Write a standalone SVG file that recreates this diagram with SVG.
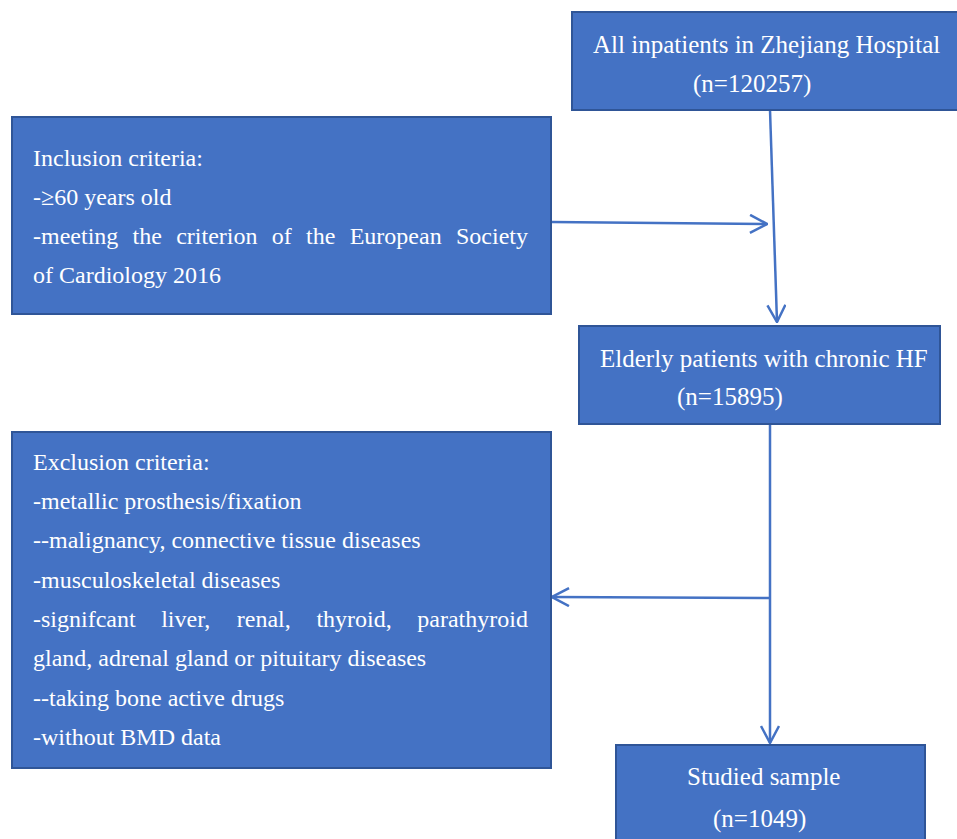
<svg xmlns="http://www.w3.org/2000/svg" width="957" height="839" viewBox="0 0 957 839">
<style>
.box{fill:#4472C4;stroke:#2F5597;stroke-width:2}
.t{font-family:"Liberation Serif","Times New Roman",serif;fill:#ffffff}
.l{font-size:24px}
.r{font-size:25px}
.c{fill:none;stroke:#4472C4;stroke-width:2.5}
</style>
<defs>
<marker id="arr" viewBox="0 0 20 20" refX="19" refY="10" markerWidth="20" markerHeight="20" markerUnits="userSpaceOnUse" orient="auto">
<path d="M2,1 L19,10 L2,19" fill="none" stroke="#4472C4" stroke-width="2.5"/>
</marker>
</defs>
<rect width="957" height="839" fill="#ffffff"/>
<g id="connectors">
<path class="c" d="M770,110 L777,322" marker-end="url(#arr)"/>
<path class="c" d="M551,222 L767,224" marker-end="url(#arr)"/>
<path class="c" d="M770,424 L770,743" marker-end="url(#arr)"/>
<path class="c" d="M770,598 L552,597" marker-end="url(#arr)"/>
</g>
<g id="all-inpatients">
<rect class="box" x="572" y="12" width="395" height="98"/>
<text class="t r" x="593" y="53">All inpatients in Zhejiang Hospital</text>
<text class="t r" x="693" y="92">(n=120257)</text>
</g>
<g id="inclusion">
<rect class="box" x="12" y="117" width="539" height="197"/>
<text class="t l" x="33" y="166">Inclusion criteria:</text>
<text class="t l" x="33" y="205">-≥60 years old</text>
<text class="t l" y="244"><tspan x="33">-meeting</tspan> <tspan x="132.6">the</tspan> <tspan x="176.2">criterion</tspan> <tspan x="271.8">of</tspan> <tspan x="306.1">the</tspan> <tspan x="349.7">European</tspan> <tspan x="456">Society</tspan></text>
<text class="t l" x="33" y="283">of Cardiology 2016</text>
</g>
<g id="elderly-hf">
<rect class="box" x="579" y="326" width="361" height="98"/>
<text class="t r" x="600" y="367">Elderly patients with chronic HF</text>
<text class="t r" x="677" y="405">(n=15895)</text>
</g>
<g id="exclusion">
<rect class="box" x="12" y="432" width="539" height="336"/>
<text class="t l" x="33" y="470">Exclusion criteria:</text>
<text class="t l" x="33" y="509">-metallic prosthesis/fixation</text>
<text class="t l" x="33" y="548">--malignancy, connective tissue diseases</text>
<text class="t l" x="33" y="588">-musculoskeletal diseases</text>
<text class="t l" y="627"><tspan x="33">-signifcant</tspan> <tspan x="161.2">liver,</tspan> <tspan x="236.8">renal,</tspan> <tspan x="316.4">thyroid,</tspan> <tspan x="417.3">parathyroid</tspan></text>
<text class="t l" x="33" y="666">gland, adrenal gland or pituitary diseases</text>
<text class="t l" x="33" y="706">--taking bone active drugs</text>
<text class="t l" x="33" y="745">-without BMD data</text>
</g>
<g id="studied-sample">
<rect class="box" x="616" y="745" width="309" height="100"/>
<text class="t r" x="687" y="785">Studied sample</text>
<text class="t r" x="713" y="827">(n=1049)</text>
</g>
</svg>
